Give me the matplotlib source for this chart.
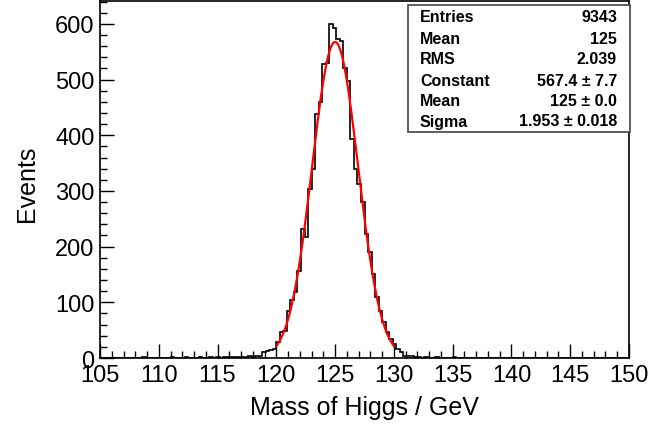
import matplotlib
matplotlib.use("Agg")
import matplotlib.pyplot as plt
import numpy as np
from matplotlib.patches import Rectangle

plt.rcParams['font.family'] = ['Liberation Sans', 'DejaVu Sans']

# histogram: 150 bins of 0.3 GeV from 105 to 150
x_min, x_max, n_bins = 105.0, 150.0, 150
counts = [
    0, 0, 0, 0, 0, 0, 0, 0, 0, 0,            # 105.0 - 108.0
    0, 0, 1, 0, 0, 0, 0, 0, 0, 0,            # 108.0 - 111.0
    1, 0, 0, 0, 1, 0, 0, 0, 1, 0,            # 111.0 - 114.0
    0, 1, 0, 1, 0, 1, 2, 1, 1, 2,            # 114.0 - 117.0
    2, 2, 3, 1, 4, 4, 10, 12, 15, 17,        # 117.0 - 120.0
    29, 46, 48, 85, 105, 119, 157, 232, 218, 304,   # 120.0 - 123.0
    340, 438, 459, 528, 530, 600, 592, 573, 570, 520,  # 123.0 - 126.0
    498, 393, 340, 312, 280, 223, 190, 151, 109, 85,   # 126.0 - 129.0
    64, 46, 34, 26, 16, 10, 4, 3, 3, 2,      # 129.0 - 132.0
    1, 0, 1, 0, 0, 1, 0, 0, 0, 0,            # 132.0 - 135.0
    1, 0, 0, 0, 0, 0, 0, 0, 0, 0,            # 135.0 - 138.0
    0, 0, 0, 0, 0, 0, 0, 0, 0, 0,            # 138.0 - 141.0
    0, 0, 0, 0, 0, 0, 0, 0, 0, 0,            # 141.0 - 144.0
    0, 0, 0, 0, 0, 0, 0, 0, 0, 0,            # 144.0 - 147.0
    0, 0, 0, 0, 0, 0, 0, 0, 0, 0,            # 147.0 - 150.0
]

# gaussian fit result (from the stats box), fitted between 120 and 130
fit_const = 567.4
fit_mean = 125.0
fit_sigma = 1.953
fit_range = (120.0, 130.0)

stat_labels = ["Entries", "Mean", "RMS", "Constant", "Mean", "Sigma"]
stat_values = ["9343", "125", "2.039", "567.4 \u00b1 7.7", "125 \u00b1 0.0", "1.953 \u00b1 0.018"]

W, H = 650, 427
fig = plt.figure(figsize=(W / 100, H / 100), dpi=100)
ax = fig.add_axes([100 / W, 1 - 359 / H, 529 / W, 357 / H])

edges = np.linspace(x_min, x_max, n_bins + 1)
ax.stairs(counts, edges, color='black', linewidth=1.2)

xf = np.linspace(fit_range[0], fit_range[1], 300)
yf = fit_const * np.exp(-0.5 * ((xf - fit_mean) / fit_sigma) ** 2)
ax.plot(xf, yf, color='red', linewidth=1.6)

ax.set_xlim(x_min, x_max)
ax.set_ylim(0, 641)
ax.set_xticks(np.arange(105, 151, 5))
ax.set_xticks(np.arange(105, 151, 1), minor=True)
ax.set_yticks(np.arange(0, 601, 100))
ax.set_yticks(np.arange(0, 641, 20), minor=True)
ax.tick_params(which='both', direction='in', top=False, right=False,
               labelsize=17, width=1, pad=4)
ax.tick_params(which='major', length=10)
ax.tick_params(which='minor', length=5)
for s in ax.spines.values():
    s.set_linewidth(1.2)

ax.set_xlabel("Mass of Higgs / GeV", fontsize=18)
ax.set_ylabel("Events", fontsize=18)
ax.xaxis.set_label_coords(0.5, -0.105)
ax.yaxis.set_label_coords(-0.115, 0.49)

# stats box
bx0, by0, bx1, by1 = 408, 6, 630, 133
fig.add_artist(Rectangle((bx0 / W, 1 - by1 / H), (bx1 - bx0) / W, (by1 - by0) / H,
                         transform=fig.transFigure, facecolor='white',
                         edgecolor='#444444', linewidth=1.2, zorder=5))
row_y = [18, 39, 60, 81, 101, 122]
for lab, val, yy in zip(stat_labels, stat_values, row_y):
    fig.text(420 / W, 1 - yy / H, lab, ha='left', va='center',
             fontsize=11.5, fontweight='bold', zorder=6)
    fig.text(617 / W, 1 - yy / H, val, ha='right', va='center',
             fontsize=11.5, fontweight='bold', zorder=6)

fig.savefig("out.png", dpi=100)
